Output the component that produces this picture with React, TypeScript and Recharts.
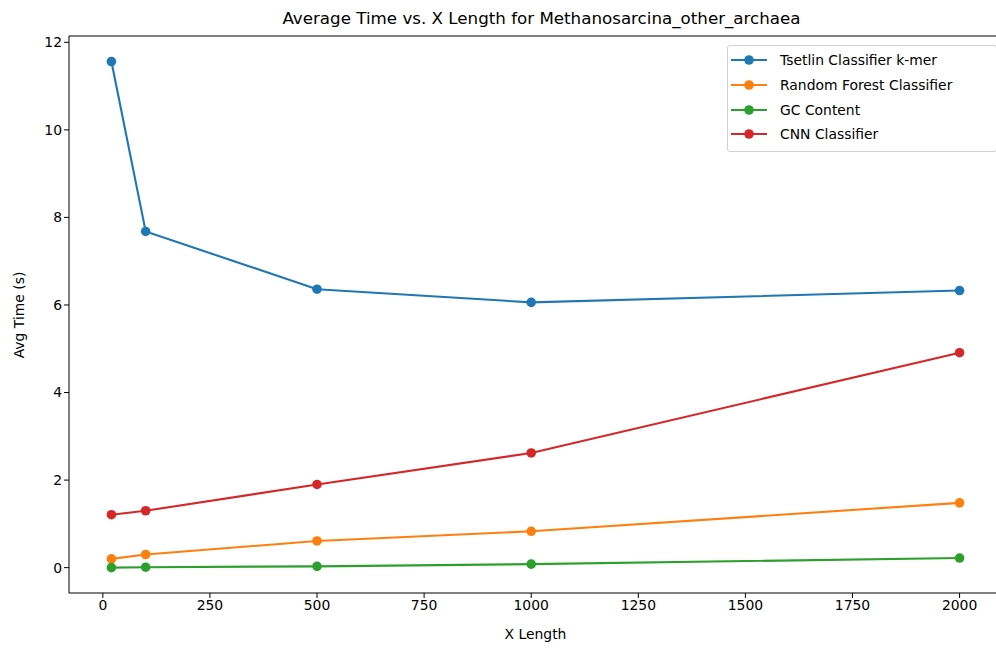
import { LineChart, Line, XAxis, YAxis, ReferenceLine } from 'recharts';

const xLengths = [20, 100, 500, 1000, 2000];
const tsetlin = [11.56, 7.68, 6.36, 6.06, 6.33];
const randomForest = [0.2, 0.3, 0.61, 0.83, 1.48];
const gcContent = [0.0, 0.01, 0.03, 0.08, 0.22];
const cnn = [1.21, 1.3, 1.9, 2.62, 4.91];

const xTicks = [0, 250, 500, 750, 1000, 1250, 1500, 1750, 2000];
const yTicks = [0, 2, 4, 6, 8, 10, 12];

const xDomain: [number, number] = [-79, 2099];
const yDomain: [number, number] = [-0.579, 12.144];

const series = [
  { key: 'tsetlin', name: 'Tsetlin Classifier k-mer', color: '#1f77b4', values: tsetlin },
  { key: 'rf', name: 'Random Forest Classifier', color: '#ff7f0e', values: randomForest },
  { key: 'gc', name: 'GC Content', color: '#2ca02c', values: gcContent },
  { key: 'cnn', name: 'CNN Classifier', color: '#d62728', values: cnn },
];

const data = xLengths.map((x, i) => {
  const row: Record<string, number> = { x };
  series.forEach((s) => {
    row[s.key] = s.values[i];
  });
  return row;
});

const font = '"DejaVu Sans", sans-serif';
const tickStyle = { fontSize: 13.9, fill: '#000', fontFamily: font };

function LegendBox() {
  return (
    <div
      style={{
        position: 'absolute',
        left: 727,
        top: 45,
        border: '1px solid #d0d0d0',
        borderRadius: 3,
        background: 'rgba(255,255,255,0.8)',
        padding: '2px 8px 4px 3px',
        fontFamily: font,
        fontSize: 13.9,
        color: '#000',
        width: 270,
        boxSizing: 'border-box',
      }}
    >
      {series.map((s) => (
        <div key={s.key} style={{ display: 'flex', alignItems: 'center', height: 24.7 }}>
          <svg width={36} height={12} style={{ marginRight: 13 }}>
            <line x1={0} y1={6} x2={36} y2={6} stroke={s.color} strokeWidth={2.1} />
            <circle cx={18} cy={6} r={4.8} fill={s.color} />
          </svg>
          <span>{s.name}</span>
        </div>
      ))}
    </div>
  );
}

export default function App() {
  return (
    <div style={{ position: 'absolute', left: 0, top: 0, width: 1002, height: 648, background: '#fff' }}>
      <div
        style={{
          position: 'absolute',
          top: 8,
          left: 75,
          width: 933,
          textAlign: 'center',
          fontFamily: font,
          fontSize: 16.7,
          color: '#000',
        }}
      >
        Average Time vs. X Length for Methanosarcina_other_archaea
      </div>
      <div
        style={{
          position: 'absolute',
          top: 626,
          left: 69,
          width: 933,
          textAlign: 'center',
          fontFamily: font,
          fontSize: 13.9,
          color: '#000',
        }}
      >
        X Length
      </div>
      <div
        style={{
          position: 'absolute',
          left: 19,
          top: 315,
          transform: 'translate(-50%, -50%) rotate(-90deg)',
          fontFamily: font,
          fontSize: 13.9,
          color: '#000',
          whiteSpace: 'nowrap',
        }}
      >
        Avg Time (s)
      </div>
      <LineChart width={1002} height={648} data={data} margin={{ top: 36, right: 0, bottom: 0, left: 0 }}>
        <XAxis
          dataKey="x"
          type="number"
          domain={xDomain}
          allowDataOverflow
          ticks={xTicks}
          height={55}
          stroke="#000"
          tickSize={5}
          tick={tickStyle}
        />
        <YAxis
          type="number"
          domain={yDomain}
          allowDataOverflow
          ticks={yTicks}
          width={69}
          stroke="#000"
          tickSize={5}
          tick={tickStyle}
        />
        <ReferenceLine y={yDomain[1]} stroke="#000" strokeWidth={1.1} />
        <ReferenceLine x={xDomain[1]} stroke="#000" strokeWidth={1.1} />
        {series.map((s) => (
          <Line
            key={s.key}
            dataKey={s.key}
            name={s.name}
            type="linear"
            stroke={s.color}
            strokeWidth={2.1}
            dot={{ r: 4.8, fill: s.color, stroke: s.color, strokeWidth: 0 }}
            activeDot={false}
            isAnimationActive={false}
          />
        ))}
      </LineChart>
      <LegendBox />
    </div>
  );
}
